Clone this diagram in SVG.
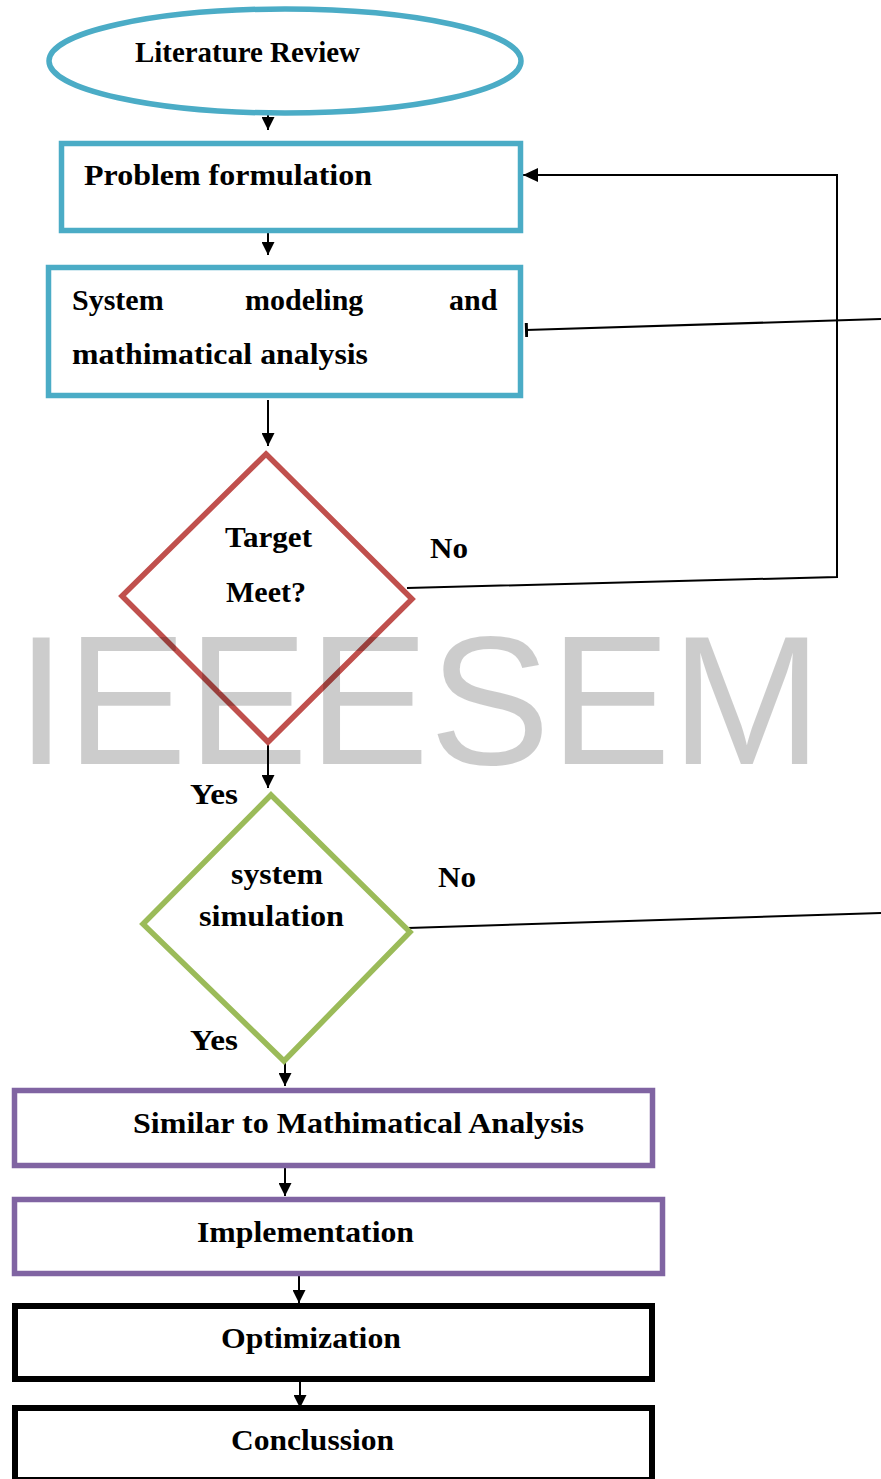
<svg xmlns="http://www.w3.org/2000/svg" width="881" height="1479" viewBox="0 0 881 1479">
<style>
.t{font-family:"Liberation Serif","Times New Roman",serif;font-weight:bold;font-size:30px;fill:#000}
.c{fill:#fff;stroke:#4bacc6;stroke-width:5.5}
.r{fill:#fff;stroke:#c0504d;stroke-width:5.5}
.g{fill:#fff;stroke:#9bbb59;stroke-width:5.5}
.p{fill:#fff;stroke:#8064a2;stroke-width:5.5}
.k{fill:#fff;stroke:#000;stroke-width:6}
.ln{fill:none;stroke:#000;stroke-width:2}
.wm{font-family:"Liberation Sans",Arial,sans-serif;font-size:184px;fill:#000;fill-opacity:0.2}
</style>
<defs>
<marker id="ah" viewBox="0 0 12 13" refX="13" refY="6.5" markerWidth="12" markerHeight="13" markerUnits="userSpaceOnUse" orient="auto">
<path d="M0,0 L13,6.5 L0,13 Z" fill="#000"/>
</marker>
<marker id="ahl" viewBox="0 0 15 14" refX="15" refY="7" markerWidth="15" markerHeight="14" markerUnits="userSpaceOnUse" orient="auto">
<path d="M0,0 L15,7 L0,14 Z" fill="#000"/>
</marker>
<marker id="tick" viewBox="0 0 4 14" refX="2" refY="7" markerWidth="4" markerHeight="14" markerUnits="userSpaceOnUse" orient="auto">
<rect x="0" y="0" width="3" height="14" fill="#000"/>
</marker>
</defs>

<g id="connectors">
<line class="ln" x1="268" y1="112" x2="268" y2="130" marker-end="url(#ah)"/>
<line class="ln" x1="268" y1="218" x2="268" y2="255" marker-end="url(#ah)"/>
<line class="ln" x1="268" y1="400" x2="268" y2="446" marker-end="url(#ah)"/>
<polyline class="ln" points="407,588 837,577 837,175 523,175" marker-end="url(#ahl)"/>
<line class="ln" x1="881" y1="319" x2="526" y2="330" marker-end="url(#tick)"/>
<line class="ln" x1="268" y1="742" x2="268" y2="788" marker-end="url(#ah)"/>
<line class="ln" x1="408" y1="928" x2="881" y2="913"/>
<line class="ln" x1="285" y1="1062" x2="285" y2="1086" marker-end="url(#ah)"/>
<line class="ln" x1="285" y1="1163" x2="285" y2="1196" marker-end="url(#ah)"/>
<line class="ln" x1="299" y1="1269" x2="299" y2="1303" marker-end="url(#ah)"/>
<line class="ln" x1="300" y1="1382" x2="300" y2="1408" marker-end="url(#ah)"/>
</g>

<g id="literature">
<ellipse class="c" cx="285" cy="61" rx="236" ry="52"/>
<text class="t" x="135" y="62" font-size="27" textLength="225" lengthAdjust="spacingAndGlyphs">Literature Review</text>
</g>

<g id="problem">
<rect class="c" x="61.5" y="143.5" width="459" height="87"/>
<text class="t" x="84" y="185" textLength="288" lengthAdjust="spacingAndGlyphs">Problem formulation</text>
</g>

<g id="modeling">
<rect class="c" x="48.5" y="267.5" width="472" height="128"/>
<text class="t" x="72" y="310">System</text>
<text class="t" x="245" y="310">modeling</text>
<text class="t" x="449" y="310">and</text>
<text class="t" x="72" y="364" textLength="296" lengthAdjust="spacingAndGlyphs">mathimatical analysis</text>
</g>

<g id="target">
<polygon class="r" points="266,454 412,599 268,742 122,596"/>
<text class="t" x="225" y="547" textLength="87" lengthAdjust="spacingAndGlyphs">Target</text>
<text class="t" x="226" y="602" textLength="80" lengthAdjust="spacingAndGlyphs">Meet?</text>
</g>

<g id="simulation">
<polygon class="g" points="271,795 410,932 284,1061 143,924"/>
<text class="t" x="231" y="884" textLength="92" lengthAdjust="spacingAndGlyphs">system</text>
<text class="t" x="199" y="926" textLength="145" lengthAdjust="spacingAndGlyphs">simulation</text>
</g>

<g id="labels">
<text class="t" x="430" y="558" textLength="38" lengthAdjust="spacingAndGlyphs">No</text>
<text class="t" x="438" y="887" textLength="38" lengthAdjust="spacingAndGlyphs">No</text>
<text class="t" x="190" y="804" textLength="48" lengthAdjust="spacingAndGlyphs">Yes</text>
<text class="t" x="190" y="1050" textLength="48" lengthAdjust="spacingAndGlyphs">Yes</text>
</g>

<g id="similar">
<rect class="p" x="14.5" y="1090.5" width="638" height="75"/>
<text class="t" x="133" y="1133" textLength="451" lengthAdjust="spacingAndGlyphs">Similar to Mathimatical Analysis</text>
</g>

<g id="implementation">
<rect class="p" x="14.5" y="1199.5" width="648" height="74"/>
<text class="t" x="197" y="1242" textLength="217" lengthAdjust="spacingAndGlyphs">Implementation</text>
</g>

<g id="optimization">
<rect class="k" x="15" y="1306" width="637" height="73"/>
<text class="t" x="221" y="1348" textLength="180" lengthAdjust="spacingAndGlyphs">Optimization</text>
</g>

<g id="conclusion">
<rect class="k" x="15" y="1408" width="637" height="72"/>
<text class="t" x="231" y="1450" textLength="163" lengthAdjust="spacingAndGlyphs">Conclussion</text>
</g>

<text class="wm" x="16" y="764" textLength="806" lengthAdjust="spacingAndGlyphs">IEEESEM</text>
</svg>
